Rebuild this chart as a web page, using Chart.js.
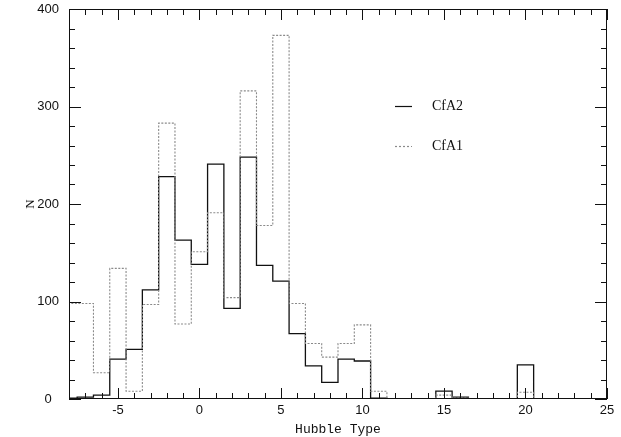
<!DOCTYPE html>
<html>
<head>
<meta charset="utf-8">
<script src="https://cdn.jsdelivr.net/npm/chart.js@4/dist/chart.umd.min.js"></script>
<style>
  html, body { margin: 0; padding: 0; background: #fff; }
  #wrap { width: 621px; height: 437px; }
</style>
</head>
<body>
<div id="wrap"><canvas id="hist"></canvas></div>
<script>
// ── Data (bin centres = Hubble type, unit-wide bins) ──────────────
const hubbleTypes = [-8, -7, -6, -5, -4, -3, -2, -1, 0, 1, 2, 3, 4, 5, 6, 7, 8, 9, 10, 11, 12, 13, 14, 15, 16, 17, 18, 19, 20, 21, 22, 23, 24, 25];
const cfa2Counts  = [1, 2, 4, 41, 51, 112, 228, 163, 138, 241, 93, 248, 137, 121, 67, 34, 17, 41, 39, 1, 0, 0, 0, 8, 2, 0, 0, 0, 35, 0, 0, 0, 0, 0];
const cfa1Counts  = [98, 98, 27, 134, 8, 97, 283, 77, 151, 191, 104, 316, 178, 373, 98, 57, 43, 57, 76, 8, 0, 0, 0, 4, 1, 0, 0, 0, 7, 0, 0, 0, 0, 0];
const xTickLabels = [-5, 0, 5, 10, 15, 20, 25];
const yTickLabels = [0, 100, 200, 300, 400];
const seriesNames = ['CfA2', 'CfA1'];

// turn bin centres into left-edge points for a stepped outline
function toSteps(counts) {
  const pts = hubbleTypes.map((t, i) => ({ x: t - 0.5, y: counts[i] }));
  pts.push({ x: hubbleTypes[hubbleTypes.length - 1] + 0.5, y: 0 });
  return pts;
}

const INK = '#111';
const GREY = '#8a8a8a';

// inward ticks + frame, like the old plotting package
const frameTicks = {
  id: 'frameTicks',
  afterDatasetsDraw(chart) {
    const { ctx, chartArea: a, scales: { x, y } } = chart;
    ctx.save();
    ctx.strokeStyle = INK;
    ctx.lineWidth = 1;
    ctx.strokeRect(a.left + 0.5, a.top + 0.5, a.right - a.left - 1, a.bottom - a.top - 1);
    ctx.beginPath();
    for (let v = Math.ceil(x.min); v <= x.max; v++) {
      const px = Math.round(x.getPixelForValue(v)) + 0.5;
      const len = v % 5 === 0 ? 11 : 6;
      ctx.moveTo(px, a.bottom); ctx.lineTo(px, a.bottom - len);
      ctx.moveTo(px, a.top);    ctx.lineTo(px, a.top + len);
    }
    for (let v = y.min; v <= y.max; v += 20) {
      const py = Math.round(y.getPixelForValue(v)) + 0.5;
      const len = v % 100 === 0 ? 12 : 6;
      ctx.moveTo(a.left, py);  ctx.lineTo(a.left + len, py);
      ctx.moveTo(a.right, py); ctx.lineTo(a.right - len, py);
    }
    ctx.stroke();

    // legend inside the frame
    const rows = [
      { label: seriesNames[0], color: INK, dash: [] },
      { label: seriesNames[1], color: GREY, dash: [2, 2] },
    ];
    const lx = a.left + 326, ly = a.top + 97;
    rows.forEach((r, i) => {
      const yy = ly + i * 40 + 0.5;
      ctx.beginPath();
      ctx.setLineDash(r.dash);
      ctx.strokeStyle = r.color;
      ctx.lineWidth = 1.2;
      ctx.moveTo(lx, yy); ctx.lineTo(lx + 17, yy);
      ctx.stroke();
      ctx.setLineDash([]);
      ctx.fillStyle = INK;
      ctx.font = '14px "Liberation Serif", serif';
      ctx.textBaseline = 'middle';
      ctx.fillText(r.label, lx + 37, yy);
    });
    ctx.restore();
  },
};

new Chart(document.getElementById('hist'), {
  type: 'line',
  data: {
    datasets: [
      {
        label: seriesNames[1],
        data: toSteps(cfa1Counts),
        stepped: 'before',
        borderColor: GREY,
        borderWidth: 1.1,
        borderDash: [2, 1.5],
        pointRadius: 0,
        fill: false,
      },
      {
        label: seriesNames[0],
        data: toSteps(cfa2Counts),
        stepped: 'before',
        borderColor: INK,
        borderWidth: 1.3,
        pointRadius: 0,
        fill: false,
      },
    ],
  },
  options: {
    responsive: true,
    maintainAspectRatio: false,
    animation: false,
    events: [],
    layout: { padding: { top: 9, right: 14, left: 23, bottom: 0 } },
    plugins: { legend: { display: false }, tooltip: { enabled: false } },
    scales: {
      x: {
        type: 'linear',
        min: -8,
        max: 25,
        afterBuildTicks: s => { s.ticks = xTickLabels.map(v => ({ value: v })); },
        afterFit: s => { s.height = 38; s.paddingLeft = 0; s.paddingRight = 0; },
        grid: { display: false, drawTicks: false },
        border: { display: false },
        ticks: { color: INK, padding: 4, font: { family: 'Liberation Sans', size: 13 } },
        title: {
          display: true,
          text: 'Hubble Type',
          color: INK,
          padding: { top: 0, bottom: 0 },
          font: { family: 'Liberation Mono', size: 13 },
        },
      },
      y: {
        min: 0,
        max: 400,
        afterBuildTicks: s => { s.ticks = yTickLabels.map(v => ({ value: v })); },
        afterFit: s => { s.width = 46; s.paddingTop = 0; s.paddingBottom = 0; },
        grid: { display: false, drawTicks: false },
        border: { display: false },
        ticks: { color: INK, padding: 10, crossAlign: 'center', font: { family: 'Liberation Sans', size: 13 } },
        title: {
          display: true,
          text: 'N',
          color: INK,
          padding: { top: 0, bottom: 0 },
          font: { family: 'Liberation Serif', size: 13 },
        },
      },
    },
  },
  plugins: [frameTicks],
});
</script>
</body>
</html>
